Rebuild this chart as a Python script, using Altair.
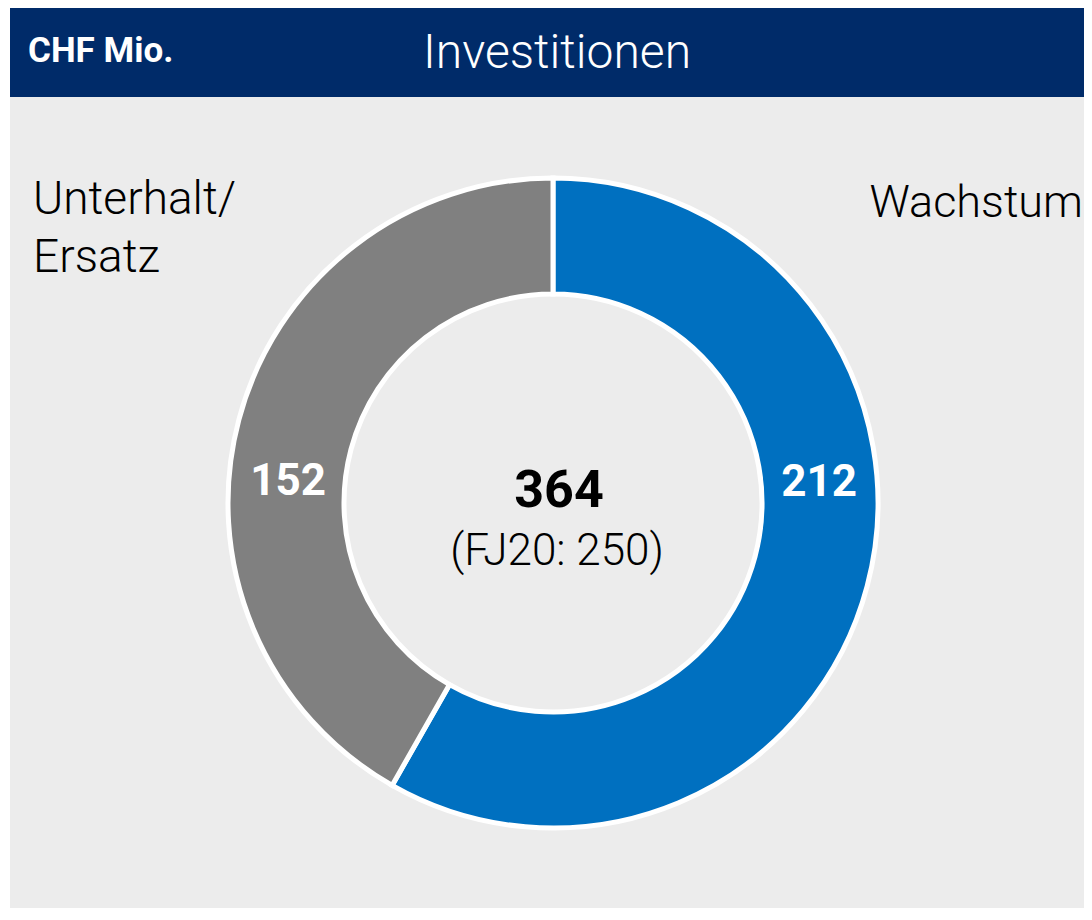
import altair as alt
import pandas as pd

# ---- data ----
categories = ["Wachstum", "Unterhalt/Ersatz"]
values = [212, 152]
category_labels = ["Wachstum", "Unterhalt/\nErsatz"]
colors = ["#0070c0", "#808080"]
unit_label = "CHF Mio."
title_text = "Investitionen"
prev_year_label = "FJ20"
prev_year_total = 250

df = pd.DataFrame({
    "cat": categories,
    "value": values,
    "idx": list(range(len(categories))),
    "label": category_labels,
})

FONT = "Roboto"
NAVY = "#002b69"
BG = "#ececec"
W, H = 1076, 900
CX, CY = 545, 495
R_OUT, R_IN = 325, 209

one = pd.DataFrame({"a": [0]})

background = alt.Chart(one).mark_rect(color=BG).encode(
    x=alt.value(2), x2=alt.value(W), y=alt.value(89), y2=alt.value(H)
)
header = alt.Chart(one).mark_rect(color=NAVY).encode(
    x=alt.value(2), x2=alt.value(W), y=alt.value(0), y2=alt.value(89)
)
unit_text = alt.Chart(one).mark_text(
    text=unit_label, font=FONT, fontSize=35, fontWeight="bold", color="white",
    align="left", baseline="alphabetic"
).encode(x=alt.value(20), y=alt.value(54))
title = alt.Chart(one).mark_text(
    text=title_text, font=FONT, fontSize=48, fontWeight=300, color="white",
    align="center", baseline="alphabetic"
).encode(x=alt.value(549), y=alt.value(60))

base = alt.Chart(df)

arc = base.mark_arc(
    outerRadius=R_OUT, innerRadius=R_IN, stroke="white", strokeWidth=5
).encode(
    theta=alt.Theta("value:Q", stack=True),
    color=alt.Color("cat:N", scale=alt.Scale(domain=categories, range=colors), legend=None),
    order=alt.Order("idx:Q"),
    x=alt.value(CX),
    y=alt.value(CY),
)

val_style = dict(font=FONT, fontSize=44, fontWeight="bold", color="white",
                 align="center", baseline="alphabetic")
val_w = base.transform_filter(alt.datum.cat == categories[0]).mark_text(**val_style).encode(
    text="value:Q", x=alt.value(CX + 266), y=alt.value(488)
)
val_u = base.transform_filter(alt.datum.cat == categories[1]).mark_text(**val_style).encode(
    text="value:Q", x=alt.value(CX - 265), y=alt.value(487)
)

cat_style = dict(font=FONT, fontSize=46, fontWeight=300, color="black",
                 baseline="alphabetic", lineBreak="\n", lineHeight=58)
cat_w = base.transform_filter(alt.datum.cat == categories[0]).mark_text(
    **{**cat_style, "fontSize": 45}, align="right"
).encode(text="label:N", x=alt.value(W - 1), y=alt.value(209))
cat_u = base.transform_filter(alt.datum.cat == categories[1]).mark_text(
    **cat_style, align="left"
).encode(text="label:N", x=alt.value(25), y=alt.value(206))

total = base.transform_aggregate(total="sum(value)").mark_text(
    font=FONT, fontSize=52, fontWeight="bold", color="black",
    align="center", baseline="alphabetic"
).encode(text="total:Q", x=alt.value(551), y=alt.value(499))

prev = alt.Chart(pd.DataFrame({"t": [f"({prev_year_label}: {prev_year_total})"]})).mark_text(
    font=FONT, fontSize=44, fontWeight=300, color="black",
    align="center", baseline="alphabetic"
).encode(text="t:N", x=alt.value(549), y=alt.value(557))

chart = alt.layer(
    background, header, unit_text, title, arc, val_w, val_u, cat_w, cat_u, total, prev
).properties(
    width=W, height=H, padding=0,
    autosize=alt.AutoSizeParams(type="none"),
    background="white",
).configure_view(stroke=None)

chart.save("out.html", embed_options={"renderer": "svg", "actions": False})
